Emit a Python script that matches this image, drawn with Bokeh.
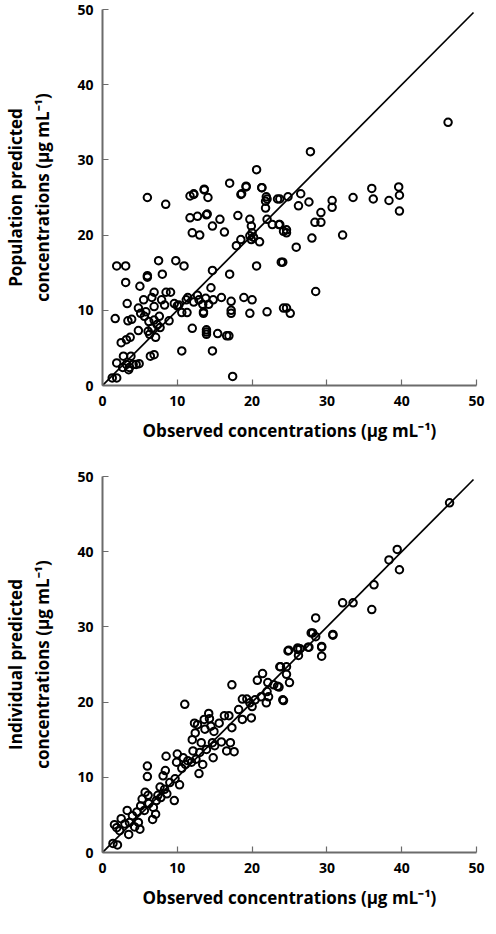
from bokeh.plotting import figure
from bokeh.layouts import column
from bokeh.models import Range1d, FixedTicker
from bokeh.embed import file_html
from bokeh.resources import INLINE

# ---- data: top panel (population predictions) ----
pop_obs = [6.0, 8.45, 11.7, 12.2, 13.6, 14.1, 18.6, 19.2, 21.3, 21.9, 22.0, 21.8, 21.8, 23.4,
           11.7, 12.7, 13.9, 14.0, 15.7, 14.7, 12.0, 13.0, 16.3, 18.1, 19.7, 19.9, 20.0, 19.7,
           19.9, 20.2, 21.0, 18.5, 17.9, 22.0, 22.7, 23.6, 24.2, 23.9, 24.2, 20.6, 17.0, 14.7,
           14.5, 1.9, 3.1, 3.1, 5.0, 6.0, 6.0, 7.5, 8.0, 9.8, 10.9, 3.3, 1.7, 2.5, 3.2, 3.7,
           3.4, 3.9, 4.8, 4.8, 5.1, 5.5, 5.6, 5.8, 6.2, 6.6, 6.9, 6.9, 6.9, 6.1, 6.3, 7.1, 6.6,
           7.3, 7.6, 7.7, 7.9, 8.3, 8.5, 9.1, 8.9, 9.6, 10.0, 10.2, 10.6, 11.3, 11.2, 11.4, 12.2,
           12.7, 12.9, 13.4, 13.5, 13.5, 13.8, 14.2, 14.8, 15.9, 17.2, 17.2, 17.2, 18.9, 20.0,
           19.7, 22.0, 12.0, 13.9, 13.9, 13.9, 15.4, 16.6, 16.9, 10.6, 14.7, 6.4, 6.9, 17.4,
           1.9, 2.8, 3.2, 3.5, 3.8, 4.1, 4.5, 4.9, 2.7, 3.6, 1.3, 1.9,
           23.7, 24.8, 26.5, 26.2, 27.6, 30.7, 30.7, 33.5, 36.0, 36.2, 38.3, 39.7, 39.6, 39.7,
           29.2, 28.4, 29.2, 23.7, 24.6, 24.6, 28.0, 25.9, 32.1, 24.1, 28.5, 24.6, 25.1,
           46.2, 27.8, 20.6, 17.0, 19.2, 21.3, 13.6, 18.5, 12.2]
pop_pred = [25.0, 24.1, 25.2, 25.5, 26.1, 25.0, 25.5, 26.4, 26.3, 25.1, 24.8, 24.5, 23.6, 24.8,
            22.3, 22.5, 22.7, 22.8, 22.1, 21.2, 20.3, 20.0, 20.4, 22.6, 22.1, 21.2, 20.3, 19.9,
            19.4, 19.7, 19.1, 19.4, 18.6, 22.1, 21.4, 21.4, 20.5, 16.4, 10.3, 15.9, 14.8, 15.3,
            13.0, 15.9, 15.9, 13.7, 13.2, 14.6, 14.4, 16.6, 14.8, 16.6, 15.9, 10.9, 8.9, 5.7, 6.1, 6.4,
            8.6, 8.8, 7.3, 10.3, 9.6, 11.4, 9.2, 9.8, 8.5, 11.7, 12.4, 10.5, 8.7, 7.2, 6.8, 6.4, 7.6,
            8.1, 9.2, 7.7, 11.4, 10.7, 12.4, 12.4, 8.6, 10.9, 10.6, 10.7, 9.7, 9.7, 11.4, 11.7, 11.1,
            12.0, 11.4, 10.8, 9.8, 9.6, 11.6, 10.8, 11.4, 11.7, 11.2, 10.0, 9.6, 11.7, 11.4,
            9.6, 9.8, 7.6, 7.4, 7.1, 6.8, 6.9, 6.6, 6.6, 4.6, 4.6, 3.9, 4.1, 1.2,
            3.0, 3.9, 2.8, 2.1, 3.9, 2.8, 2.8, 2.9, 2.4, 2.4, 1.0, 1.0,
            24.8, 25.1, 25.5, 23.9, 24.4, 24.6, 23.7, 25.0, 26.2, 24.8, 24.6, 25.3, 26.4, 23.2,
            23.0, 21.7, 21.7, 21.4, 20.7, 20.3, 19.6, 18.4, 20.0, 16.4, 12.5, 10.3, 9.6,
            35.0, 31.1, 28.7, 26.9, 26.5, 26.3, 26.0, 25.4, 25.4]

# ---- data: bottom panel (individual predictions) ----
ind_obs = [1.4, 2.0, 1.6, 1.9, 2.3, 2.5, 3.0, 3.3, 3.6, 3.5, 4.0, 4.3, 4.6, 4.8, 5.0, 5.1, 5.3,
           5.6, 5.7, 6.0, 6.0, 6.1, 6.2, 6.7, 6.8, 7.1, 7.2, 7.4, 7.7, 7.8, 8.1, 8.3, 8.4, 8.5,
           8.6, 9.0, 9.6, 9.7, 9.9, 10.0, 10.3, 10.6, 10.8, 11.0, 11.1, 11.4, 11.9, 12.0, 12.1,
           12.3, 12.4, 12.5, 12.7, 12.9, 13.0, 13.2, 13.4, 13.6, 13.7, 13.9, 14.2, 14.3, 14.5,
           14.7, 14.8, 14.9, 15.0, 15.6, 15.9, 16.3, 16.6, 16.9, 17.1, 17.3, 17.3, 17.6, 18.2,
           18.7, 18.7, 19.3, 19.7, 19.9, 20.0, 20.4, 20.7, 21.2, 21.4, 21.9, 22.0, 22.1, 22.2,
           22.9, 23.4, 23.8, 24.1,
           24.8, 26.1, 26.4, 27.5, 29.3, 29.3, 26.2, 23.7, 24.6, 24.6, 23.6, 25.0, 24.2,
           46.4, 39.4, 38.3, 39.7, 36.3, 36.0, 32.1, 33.5, 28.5, 27.9, 28.1, 28.5, 30.8, 30.8,
           29.3, 27.6, 26.1, 24.9]
ind_pred = [1.2, 1.0, 3.7, 3.3, 2.9, 4.5, 3.8, 5.6, 4.0, 2.4, 4.9, 3.4, 5.4, 4.0, 3.1, 6.2, 7.1,
            5.6, 8.0, 11.5, 10.1, 7.6, 6.5, 4.4, 6.0, 5.1, 6.9, 7.6, 8.7, 7.3, 10.2, 8.4, 10.9, 12.8,
            7.8, 9.3, 6.9, 9.8, 12.0, 13.1, 9.0, 11.2, 12.6, 19.7, 11.7, 12.2, 12.0, 15.0, 13.5,
            17.2, 15.9, 12.4, 17.0, 10.5, 13.3, 14.6, 11.7, 17.7, 16.4, 13.7, 18.5, 17.8, 16.8,
            14.6, 12.6, 16.1, 14.2, 17.2, 14.7, 18.2, 13.5, 18.2, 14.6, 22.3, 16.6, 13.4, 19.0,
            17.7, 20.4, 20.4, 19.9, 17.9, 19.4, 20.3, 22.9, 20.7, 23.8, 19.9, 21.4, 22.6, 20.7,
            22.3, 22.1, 24.7, 20.3,
            26.8, 27.0, 27.1, 27.3, 27.3, 26.1, 26.2, 24.7, 24.7, 23.7, 22.0, 22.6, 20.2,
            46.5, 40.3, 38.9, 37.6, 35.6, 32.3, 33.2, 33.2, 31.2, 29.2, 29.2, 28.7, 29.0, 28.9,
            27.4, 27.3, 27.2, 26.9]

identity = [0, 49.6]
ticks = [0, 10, 20, 30, 40, 50]
x_title = "Observed concentrations (\u03bcg mL\u207b\u00b9)"
y_titles = ["Population predicted\nconcentrations (\u03bcg mL\u207b\u00b9)",
            "Individual predicted\nconcentrations (\u03bcg mL\u207b\u00b9)"]

FONT = "Open Sans"
AX = "#6b6b6b"


def make(obs, pred, ytitle, height, top, bottom):
    p = figure(width=488, height=height, output_backend="svg", toolbar_location=None,
               x_range=Range1d(0, 50), y_range=Range1d(0, 50),
               min_border_left=94, min_border_right=12,
               min_border_top=top, min_border_bottom=bottom)
    p.outline_line_color = None
    p.grid.visible = False
    p.background_fill_color = "white"
    p.border_fill_color = "white"
    for ax in (p.xaxis[0], p.yaxis[0]):
        ax.ticker = FixedTicker(ticks=ticks)
        ax.minor_tick_line_color = None
        ax.axis_line_color = AX
        ax.axis_line_width = 2
        ax.major_tick_line_color = AX
        ax.major_tick_line_width = 1.2
        ax.major_tick_in = 6
        ax.major_tick_out = 0
        ax.major_label_text_font = FONT
        ax.major_label_text_font_style = "bold"
        ax.major_label_text_font_size = "14px"
        ax.major_label_text_color = "black"
        ax.axis_label_text_font = FONT
        ax.axis_label_text_font_style = "bold"
        ax.axis_label_text_font_size = "17px"
        ax.axis_label_text_color = "black"
    p.xaxis.axis_label = x_title
    p.xaxis.major_label_standoff = 10
    p.xaxis.axis_label_standoff = 10
    p.yaxis.axis_label = ytitle
    p.yaxis.major_label_standoff = 9
    p.yaxis.axis_label_standoff = 20
    p.yaxis.axis_label_text_line_height = 1.2
    p.line(identity, identity, line_color="black", line_width=1.7)
    p.scatter(obs, pred, marker="circle", size=7.5, fill_color=None,
              line_color="black", line_width=2)
    return p


p1 = make(pop_obs, pop_pred, y_titles[0], 464, 9, 79)
p2 = make(ind_obs, ind_pred, y_titles[1], 454, 12, 66)
layout = column(p1, p2, spacing=0)

open("out.html", "w").write(file_html(layout, INLINE))
